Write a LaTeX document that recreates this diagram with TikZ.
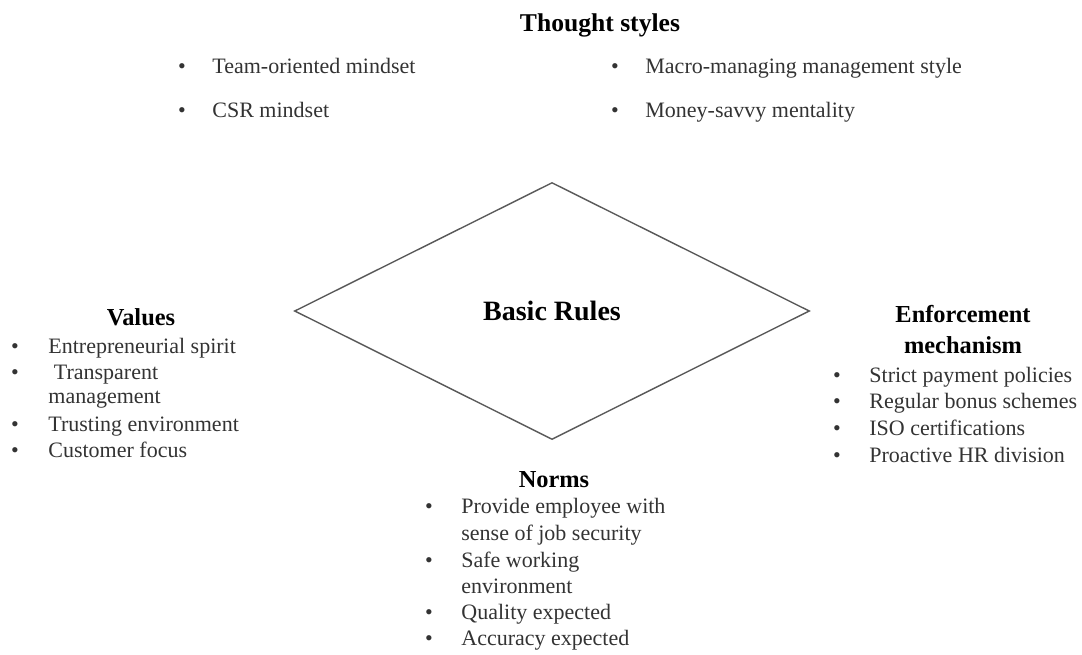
\documentclass[tikz,border=0pt]{standalone}
\usepackage{fontspec}
\setmainfont{Liberation Serif}
\usetikzlibrary{shapes.geometric}

\begin{document}
\begin{tikzpicture}[x=0.5pt, y=-0.5pt,
    rule node/.style={diamond, draw=black!65, line width=0.7pt, aspect=2, inner sep=0pt,
                      minimum width=257.5pt, minimum height=128.5pt,
                      font=\fontsize{14}{16}\selectfont\bfseries},
    head node/.style={anchor=base, inner sep=0pt, font=\fontsize{12.2}{14}\selectfont\bfseries},
    dot node/.style={anchor=base, inner sep=0pt, text=black!80, font=\fontsize{11}{13}\selectfont},
    item node/.style={anchor=base west, inner sep=0pt, text=black!80, font=\fontsize{11}{13}\selectfont}]

  \useasboundingbox (0,0) rectangle (1082,654);

  % Centro
  \node[rule node] (rules) at (552,311) {Basic Rules};

  % Thought styles (in alto)
  \node[head node, font=\fontsize{12.8}{15}\selectfont\bfseries] (thought) at (600,31) {Thought styles};
  \node[dot node]  (t1b) at (182,73)  {•};
  \node[item node] (t1)  at (212,73)  {Team-oriented mindset};
  \node[dot node]  (t2b) at (182,117) {•};
  \node[item node] (t2)  at (212,117) {CSR mindset};
  \node[dot node]  (t3b) at (615,73)  {•};
  \node[item node] (t3)  at (645,73)  {Macro-managing management style};
  \node[dot node]  (t4b) at (615,117) {•};
  \node[item node] (t4)  at (645,117) {Money-savvy mentality};

  % Values (sinistra)
  \node[head node] (values) at (141,325) {Values};
  \node[dot node]  (v1b) at (15,353) {•};
  \node[item node] (v1)  at (48,353) {Entrepreneurial spirit};
  \node[dot node]  (v2b) at (15,379) {•};
  \node[item node] (v2)  at (48,379) {\ Transparent};
  \node[item node] (v2x) at (48,403) {management};
  \node[dot node]  (v3b) at (15,431) {•};
  \node[item node] (v3)  at (48,431) {Trusting environment};
  \node[dot node]  (v4b) at (15,457) {•};
  \node[item node] (v4)  at (48,457) {Customer focus};

  % Enforcement mechanism (destra)
  \node[head node] (enf)  at (963,322) {Enforcement};
  \node[head node] (enfx) at (963,353) {mechanism};
  \node[dot node]  (e1b) at (837,382) {•};
  \node[item node] (e1)  at (869,382) {Strict payment policies};
  \node[dot node]  (e2b) at (837,408) {•};
  \node[item node] (e2)  at (869,408) {Regular bonus schemes};
  \node[dot node]  (e3b) at (837,435) {•};
  \node[item node] (e3)  at (869,435) {ISO certifications};
  \node[dot node]  (e4b) at (837,462) {•};
  \node[item node] (e4)  at (869,462) {Proactive HR division};

  % Norms (in basso)
  \node[head node] (norms) at (554,487) {Norms};
  \node[dot node]  (n1b) at (429,513) {•};
  \node[item node] (n1)  at (461,513) {Provide employee with};
  \node[item node] (n1x) at (461,540) {sense of job security};
  \node[dot node]  (n2b) at (429,567) {•};
  \node[item node] (n2)  at (461,567) {Safe working};
  \node[item node] (n2x) at (461,593) {environment};
  \node[dot node]  (n3b) at (429,619) {•};
  \node[item node] (n3)  at (461,619) {Quality expected};
  \node[dot node]  (n4b) at (429,645) {•};
  \node[item node] (n4)  at (461,645) {Accuracy expected};

\end{tikzpicture}
\end{document}
